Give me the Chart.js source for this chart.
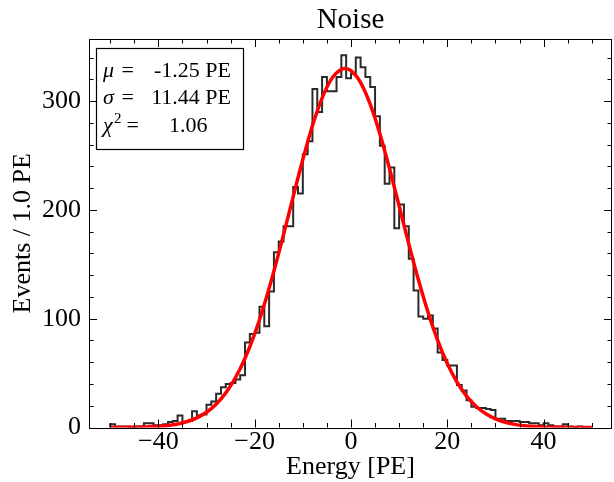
<!DOCTYPE html>
<html><head><meta charset="utf-8">
<script src="https://cdn.jsdelivr.net/npm/chart.js@4.4.0/dist/chart.umd.min.js"></script>
<style>html,body{margin:0;padding:0;background:#fff;}#wrap{width:614px;height:482px;}</style>
</head><body><div id="wrap"><canvas id="c" width="614" height="482"></canvas></div>
<script>
// ---- data ----
const binStart = -50;
const binWidth = 1;
const binCounts = [
  3,1,1,1,0,1,1,4,4,2,
  2,3,5,6,11,5,6,15,11,12,
  21,24,31,37,40,41,44,48,78,86,
  87,111,93,125,161,171,185,185,221,215,
  251,263,311,290,322,309,309,322,342,321,
  325,340,331,322,313,286,259,224,239,183,
  205,185,155,126,102,100,103,91,69,62,
  57,57,39,34,25,19,18,18,17,16,
  8,8,6,6,6,5,5,4,4,2,
  4,2,1,1,3,1,0,1,0,0
];
const fitX = [-50,-48,-46,-44,-42,-40,-38,-36,-34,-32,-30,-28,-26,-24,-22,-20,-18,-16,-14,-12,-10,-8,-6,-4,-2,-1.25,0,2,4,6,8,10,12,14,16,18,20,22,24,26,28,30,32,34,36,38,40,42,44,46,48,50];
const fitY = [0.04,0.08,0.16,0.31,0.58,1.06,1.89,3.27,5.48,8.90,14.0,21.4,31.8,45.7,63.7,86.1,113.0,143.7,177.3,212.2,246.3,277.3,302.7,320.6,329.3,330.0,328.0,317.0,297.0,270.0,238.0,203.5,168.7,135.7,105.9,80.1,58.8,41.8,28.9,19.3,12.6,7.91,4.83,2.86,1.65,0.92,0.50,0.26,0.13,0.07,0.03,0.01];
const xMajorTicks = [-40,-20,0,20,40];
const yMajorTicks = [0,100,200,300];
const xRange = [-54.4, 54.2];
const yRange = [0, 357];
const statNames = ['\u03bc', '\u03c3', '\u03c7'];
const statValues = ['-1.25 PE', '11.44 PE', '1.06'];
const titleText = 'Noise';
const xTitle = 'Energy [PE]';
const yTitle = 'Events / 1.0 PE';

const FONT = "'Liberation Serif', 'Times New Roman', serif";

const histData = [{x: binStart, y: 0}]
  .concat(binCounts.map((v, i) => ({x: binStart + i * binWidth, y: v})))
  .concat([{x: binStart + binCounts.length * binWidth, y: 0}]);
const fitData = fitX.map((x, i) => ({x: x, y: fitY[i]}));

const fmt = v => (v < 0 ? '\u2212' + Math.abs(v) : String(v));

const frameTicks = {
  id: 'frameTicks',
  afterDatasetsDraw(chart) {
    const {ctx, chartArea: a, scales} = chart;
    const xs = scales.x, ys = scales.y;
    ctx.save();
    ctx.strokeStyle = '#000';
    ctx.lineWidth = 1;
    ctx.beginPath();
    for (let v = -50; v <= 50; v += 5) {
      const px = Math.round(xs.getPixelForValue(v)) + 0.5;
      if (px < a.left || px > a.right) continue;
      const len = (v % 20 === 0) ? 8 : 4.5;
      ctx.moveTo(px, a.bottom); ctx.lineTo(px, a.bottom - len);
      ctx.moveTo(px, a.top); ctx.lineTo(px, a.top + len);
    }
    for (let v = 0; v <= yRange[1]; v += 20) {
      const py = Math.round(ys.getPixelForValue(v)) + 0.5;
      const len = (v % 100 === 0) ? 8 : 4.5;
      ctx.moveTo(a.left, py); ctx.lineTo(a.left + len, py);
      ctx.moveTo(a.right, py); ctx.lineTo(a.right - len, py);
    }
    ctx.stroke();
    ctx.strokeRect(Math.round(a.left) + 0.5, Math.round(a.top) + 0.5, Math.round(a.right - a.left) - 1, Math.round(a.bottom - a.top));
    ctx.restore();
  }
};

const statsBox = {
  id: 'statsBox',
  afterDraw(chart) {
    const ctx = chart.ctx;
    ctx.save();
    ctx.fillStyle = '#fff';
    ctx.fillRect(96.5, 48.5, 147, 101);
    ctx.strokeStyle = '#000';
    ctx.lineWidth = 1.2;
    ctx.strokeRect(96.5, 48.5, 147, 101);
    ctx.fillStyle = '#000';
    ctx.textBaseline = 'alphabetic';
    ctx.textAlign = 'left';
    const base = [77, 104, 132];
    for (let i = 0; i < 3; i++) {
      ctx.font = "italic 22px " + FONT;
      ctx.fillText(statNames[i], 103, base[i]);
      ctx.font = "22px " + FONT;
      if (i === 2) {
        ctx.font = "15px " + FONT;
        ctx.fillText('2', 114, base[i] - 9);
        ctx.font = "22px " + FONT;
        ctx.fillText('=', 126.5, base[i]);
        ctx.fillText(statValues[i], 169, base[i]);
      } else {
        ctx.fillText('=', 121.5, base[i]);
        ctx.textAlign = 'right';
        ctx.fillText(statValues[i], 231, base[i]);
        ctx.textAlign = 'left';
      }
    }
    ctx.restore();
  }
};

new Chart(document.getElementById('c'), {
  type: 'line',
  data: {
    datasets: [
      {label: 'Fit', data: fitData, borderColor: '#ff0000', borderWidth: 3.5, pointRadius: 0,
       cubicInterpolationMode: 'monotone', fill: false},
      {label: 'Histogram', data: histData, borderColor: '#2a2a2a', borderWidth: 2, pointRadius: 0,
       stepped: 'before', fill: false}
    ]
  },
  options: {
    responsive: false,
    animation: false,
    devicePixelRatio: 1,
    layout: {padding: {top: 0, right: 2, left: 0, bottom: 0}},
    plugins: {
      legend: {display: false},
      tooltip: {enabled: false},
      title: {display: true, text: titleText, fullSize: false, color: '#000',
        font: {family: FONT, size: 29, weight: 'normal', lineHeight: 1.2},
        padding: {top: 3, bottom: 1.2}}
    },
    scales: {
      x: {
        type: 'linear', min: xRange[0], max: xRange[1],
        afterBuildTicks: s => { s.ticks = xMajorTicks.map(v => ({value: v})); },
        afterFit: s => { s.height = 54.5; },
        ticks: {callback: v => fmt(v), color: '#000', font: {family: FONT, size: 26}, padding: -1,
          maxRotation: 0, autoSkip: false},
        grid: {display: false, drawTicks: false},
        border: {display: false},
        title: {display: true, text: xTitle, color: '#000', font: {family: FONT, size: 26, lineHeight: 1},
          padding: {top: 0, bottom: 2}}
      },
      y: {
        min: yRange[0], max: yRange[1],
        afterBuildTicks: s => { s.ticks = yMajorTicks.map(v => ({value: v})); },
        afterFit: s => { s.width = 89; },
        ticks: {callback: v => fmt(v), color: '#000', font: {family: FONT, size: 26}, padding: 8},
        grid: {display: false, drawTicks: false},
        border: {display: false},
        title: {display: true, text: yTitle, color: '#000', font: {family: FONT, size: 26, lineHeight: 1},
          padding: {top: 10.5, bottom: 0}}
      }
    }
  },
  plugins: [frameTicks, statsBox]
});
</script>
</body></html>
